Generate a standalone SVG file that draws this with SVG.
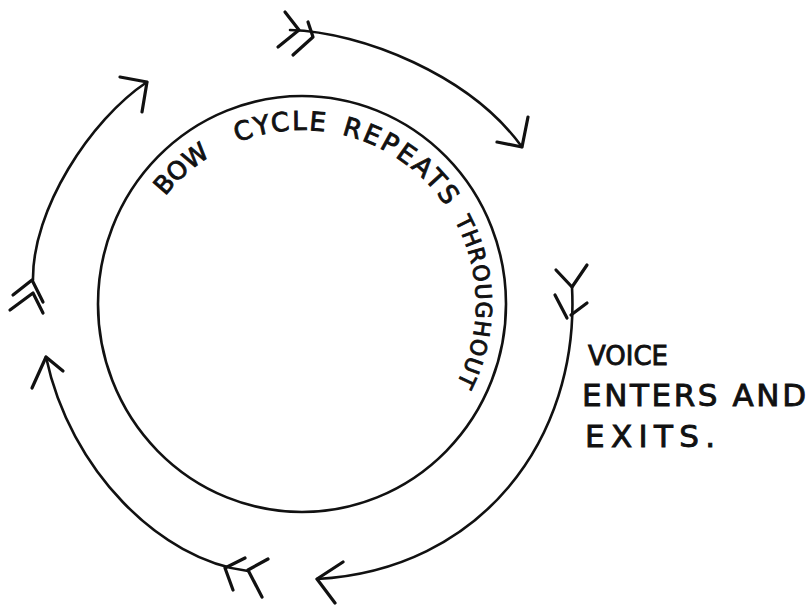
<svg xmlns="http://www.w3.org/2000/svg" width="809" height="605" viewBox="0 0 809 605">
<style>
  .ink { fill: none; stroke: #111; stroke-linecap: round; stroke-linejoin: round; }
  .line { stroke-width: 2.6; }
  .head { stroke-width: 3.2; }
  .txt { font-family: "DejaVu Sans", "Liberation Sans", sans-serif; fill: #111; stroke: #111; stroke-width: 0.9; }
</style>
<defs>
  <path id="ring" d="M128,304 A174,174 0 0 1 476,304 A174,174 0 0 1 302,478"/>
</defs>
<rect width="809" height="605" fill="#fff"/>

<g id="cycle">
  <ellipse class="ink line" cx="302" cy="304" rx="204" ry="208"/>
  <text class="txt" font-size="25"><textPath href="#ring" startOffset="116">BOW</textPath></text>
  <text class="txt" font-size="26" letter-spacing="2"><textPath href="#ring" startOffset="207">CYCLE</textPath></text>
  <text class="txt" font-size="26" letter-spacing="2.5"><textPath href="#ring" startOffset="313">REPEATS</textPath></text>
  <text class="txt" font-size="22" letter-spacing="1.2"><textPath href="#ring" startOffset="459">THROUGHOUT</textPath></text>
</g>

<g id="voice-label">
  <text class="txt" font-size="26" x="588" y="365">VOICE</text>
  <text class="txt" font-size="31" x="582" y="406" textLength="224" lengthAdjust="spacing">ENTERS AND</text>
  <text class="txt" font-size="31" x="585" y="447" textLength="130" lengthAdjust="spacing">EXITS.</text>
</g>

<g id="connectors">
  <!-- top right arrow -->
  <path class="ink line" d="M290,30 C362,32 470,75 522,147"/>
  <path class="ink head" d="M497,142 L522,147 L528,117"/>
  <path class="ink head" d="M285,12 L299,30 L278,47 M308,22 L313,37 L293,55"/>

  <!-- right arrow -->
  <path class="ink line" d="M572,287 C580,440 480,570 317,579"/>
  <path class="ink head" d="M343,562 L317,579 L335,603"/>
  <path class="ink head" d="M556,270 L572,287 L587,265 M555,295 L567,318 M587,303 L571,315"/>

  <!-- bottom left arrow -->
  <path class="ink line" d="M248,571 C160,560 70,470 46,357"/>
  <path class="ink head" d="M32,388 L46,357 L63,371"/>
  <path class="ink head" d="M245,558 L225,568 L233,590 M268,559 L248,570 L262,597"/>

  <!-- left arrow -->
  <path class="ink line" d="M33,280 C32,210 90,120 147,82"/>
  <path class="ink head" d="M120,77 L147,82 L142,112"/>
  <path class="ink head" d="M13,295 L32,280 L43,302 M10,310 L33,293 L43,313"/>
</g>
</svg>
